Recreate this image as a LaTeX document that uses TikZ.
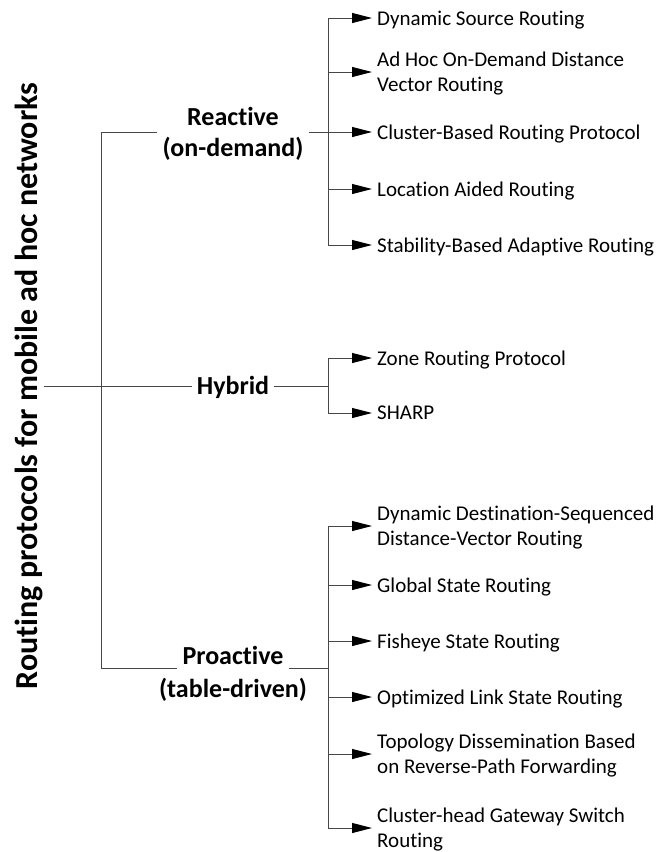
\documentclass[tikz,border=0pt]{standalone}
\usepackage{fontspec}
\setmainfont[Ligatures={NoCommon,NoRare,NoRequired,NoContextual}]{Carlito}
\usetikzlibrary{arrows.meta}
\begin{document}
\begin{tikzpicture}[x=1pt,y=-1pt,
  wire/.style={draw=black!72, line width=1pt},
  arr/.style={wire, -{Triangle[length=20pt,width=10pt,color=black,fill=black]}},
  leaf/.style={anchor=west, inner xsep=5pt, inner ysep=0pt, text depth=0pt,
               align=left, font=\fontsize{21}{25}\selectfont},
  cat/.style={font=\fontsize{26}{31}\selectfont\bfseries, align=center,
              inner xsep=5pt, inner ysep=0pt},
  rootlabel/.style={rotate=90, anchor=base, inner sep=1pt,
                    font=\fontsize{32}{38}\selectfont\bfseries}]
\useasboundingbox (0,0) rectangle (660,852);

% root label, written bottom to top
\node[rootlabel] (root) at (37,386) {Routing protocols for mobile ad hoc networks};

% the three classes
\node[cat, text depth=0pt] (rea) at (233,132) {Reactive\\(on-demand)};
\node[cat, anchor=base] (hyb) at (233,394) {Hybrid};
\node[cat, anchor=base] (pro) at (233,664) {Proactive};
\node[cat, anchor=base] (protd) at (233,697) {(table-driven)};

% bus points
\coordinate (rl) at (101,132);
\coordinate (pl) at (101,668);
\coordinate (rb) at (328,132);
\coordinate (hb) at (328,386);
\coordinate (pb) at (328,668);

% trunk
\draw[wire] (root.south) -- (root.south -| hyb.west);
\draw[wire] (hb -| hyb.east) -- (hb);
\draw[wire] (rl) -- (pl);
\draw[wire] (rl) -- (rl -| rea.west);
\draw[wire] (rb -| rea.east) -- (rb);
\draw[wire] (pl) -- (pl -| pro.west);
\draw[wire] (pb -| pro.east) -- (pb);

% reactive protocols
\node[leaf] (r1) at (372,18)  {Dynamic Source Routing};
\node[leaf] (r2) at (372,72)  {Ad Hoc On-Demand Distance\\Vector Routing};
\node[leaf] (r3) at (372,132) {Cluster-Based Routing Protocol};
\node[leaf] (r4) at (372,189) {Location Aided Routing};
\node[leaf] (r5) at (372,245) {Stability-Based Adaptive Routing};

% hybrid protocols
\node[leaf] (h1) at (372,358) {Zone Routing Protocol};
\node[leaf] (h2) at (372,413) {SHARP};

% proactive protocols
\node[leaf] (p1) at (372,526) {Dynamic Destination-Sequenced\\Distance-Vector Routing};
\node[leaf] (p2) at (372,585) {Global State Routing};
\node[leaf] (p3) at (372,641) {Fisheye State Routing};
\node[leaf] (p4) at (372,697) {Optimized Link State Routing};
\node[leaf] (p5) at (372,754) {Topology Dissemination Based\\on Reverse-Path Forwarding};
\node[leaf] (p6) at (372,828) {Cluster-head Gateway Switch\\Routing};

% vertical buses
\draw[wire] (r1.west -| rb) -- (r5.west -| rb);
\draw[wire] (h1.west -| hb) -- (h2.west -| hb);
\draw[wire] (p1.west -| pb) -- (p6.west -| pb);

% arrows to each protocol
\foreach \n in {r1,r2,r3,r4,r5} \draw[arr] (\n.west -| rb) -- (\n.west);
\foreach \n in {h1,h2} \draw[arr] (\n.west -| hb) -- (\n.west);
\foreach \n in {p1,p2,p3,p4,p5,p6} \draw[arr] (\n.west -| pb) -- (\n.west);
\end{tikzpicture}
\end{document}
